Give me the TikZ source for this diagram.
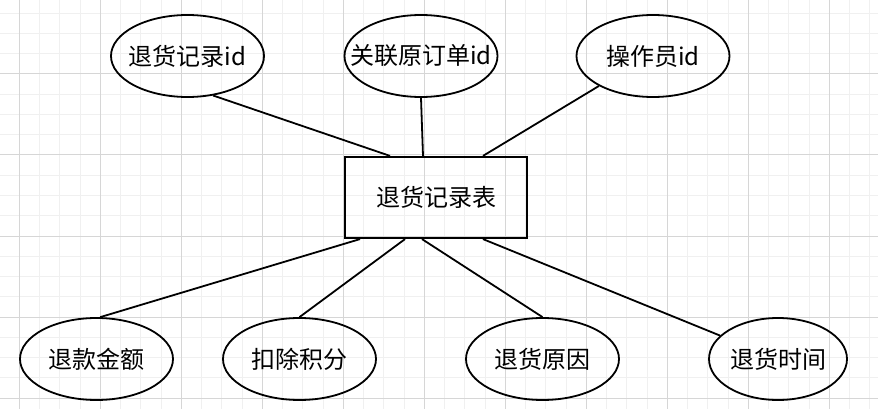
\documentclass[tikz,border=0pt]{standalone}
\usepackage{fontspec}
\newfontfamily\cjk{Noto Sans CJK SC}
\usetikzlibrary{shapes.geometric}
\definecolor{gridminor}{RGB}{240,240,240}
\definecolor{gridmajor}{RGB}{214,214,214}
\tikzset{
  attr/.style={ellipse, draw, line width=1.8pt, minimum width=153pt, minimum height=82pt,
    inner xsep=-20pt, inner ysep=0pt, font=\cjk\fontsize{24}{28}\selectfont},
  entity/.style={rectangle, draw, line width=2.2pt, minimum width=182pt, minimum height=81pt,
    inner sep=0pt, font=\cjk\fontsize{24}{28}\selectfont},
  link/.style={line width=1.8pt}
}
\begin{document}
\begin{tikzpicture}[x=1pt,y=-1pt]
  % background and grid
  \fill[white] (0,0) rectangle (878,409);
  \useasboundingbox (0,0) rectangle (878,409);
  \begin{scope}
    \clip (0,0) rectangle (878,409);
    \foreach \i in {0,...,44} \draw[gridminor,line width=1pt] ({-0.95+20.25*\i},0) -- ({-0.95+20.25*\i},409);
    \foreach \j in {0,...,20} \draw[gridminor,line width=1pt] (0,{13.25+20.25*\j}) -- (878,{13.25+20.25*\j});
    \foreach \i in {0,...,10} \draw[gridmajor,line width=1pt] ({19.3+81*\i},0) -- ({19.3+81*\i},409);
    \foreach \j in {1,...,5} \draw[gridmajor,line width=1pt] (0,{-7+81*\j}) -- (878,{-7+81*\j});
  \end{scope}
  % entity
  \node[entity] (tbl) at (436,197.5) {退货记录表};
  % attributes
  \node[attr] (rid) at (187.5,56) {退货记录id};
  \node[attr] (oid) at (421,56) {关联原订单id};
  \node[attr] (opid) at (653,56) {操作员id};
  \node[attr] (amt) at (96.5,359) {退款金额};
  \node[attr] (pts) at (299.5,359) {扣除积分};
  \node[attr] (rsn) at (542.5,359) {退货原因};
  \node[attr,minimum width=138pt] (tm) at (778,359) {退货时间};
  % links
  \draw[link] (rid.-57) -- ([xshift=-46pt]tbl.north);
  \draw[link] (oid.south) -- ([xshift=-13pt]tbl.north);
  \draw[link] (opid.-151) -- ([xshift=47pt]tbl.north);
  \draw[link] ([xshift=-76pt]tbl.south) -- (amt.85);
  \draw[link] ([xshift=-31pt]tbl.south) -- (pts.north);
  \draw[link] ([xshift=-14pt]tbl.south) -- (rsn.north);
  \draw[link] ([xshift=47pt]tbl.south) -- (tm.158);
\end{tikzpicture}
\end{document}
